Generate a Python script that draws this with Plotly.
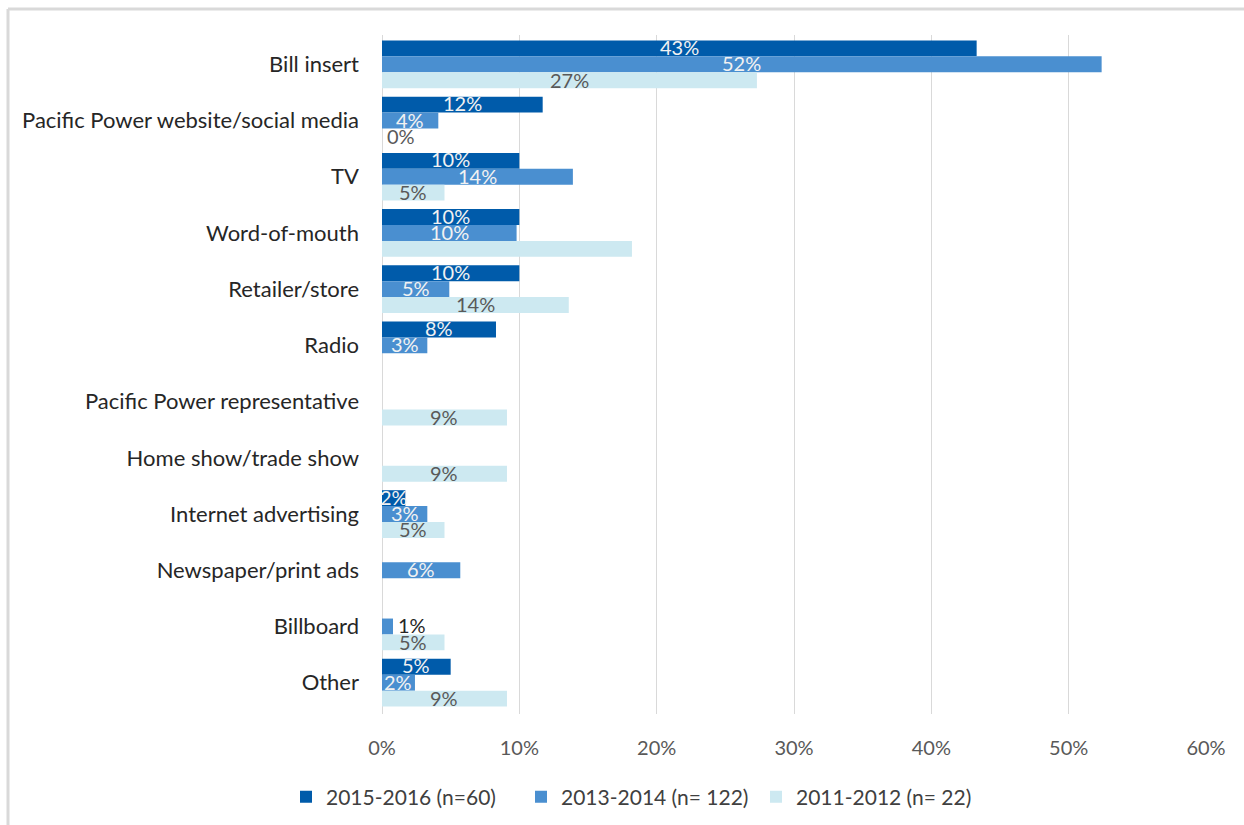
import plotly.graph_objects as go

# Survey: how participants heard about the program (share of respondents, %)
categories = [
    "Bill insert",
    "Pacific Power website/social media",
    "TV",
    "Word-of-mouth",
    "Retailer/store",
    "Radio",
    "Pacific Power representative",
    "Home show/trade show",
    "Internet advertising",
    "Newspaper/print ads",
    "Billboard",
    "Other",
]

series_names = ["2015-2016 (n=60)", "2013-2014 (n= 122)", "2011-2012 (n= 22)"]

vals_2015 = [43.3, 11.7, 10.0, 10.0, 10.0, 8.3, None, None, 1.7, None, None, 5.0]
vals_2013 = [52.4, 4.1, 13.9, 9.8, 4.9, 3.3, None, None, 3.3, 5.7, 0.8, 2.4]
vals_2011 = [27.3, 0.0, 4.55, 18.2, 13.6, None, 9.1, 9.1, 4.55, None, 4.55, 9.1]

# which data labels are shown (the 2011-2012 word-of-mouth bar carries none)
show_2015 = [True] * 12
show_2013 = [True] * 12
show_2011 = [True, True, True, False, True, True, True, True, True, True, True, True]

x_ticks = [0, 10, 20, 30, 40, 50, 60]

colors = ["#005BAA", "#4A8FD0", "#CDE9F1"]
label_colors = ["#F2F2F2", "#F2F2F2", "#595959"]

W, H = 1244, 825
ML, MR, MT, MB = 382, 38, 35, 111
PW, PH = W - ML - MR, H - MT - MB

FONT = "Lato"

fig = go.Figure()
all_vals = [vals_2015, vals_2013, vals_2011]
all_show = [show_2015, show_2013, show_2011]
for name, vals, col in zip(series_names, all_vals, colors):
    fig.add_trace(go.Bar(
        y=categories, x=vals, name=name, orientation="h",
        marker=dict(color=col, line=dict(width=0)),
        hoverinfo="x+y",
    ))

# data labels, centred on each bar (placed just past the bar end when too short)
annotations = []
shifts = [16.3, 0, -16.3]
for k, (vals, show) in enumerate(zip(all_vals, all_show)):
    for cat, v, s in zip(categories, vals, show):
        if v is None or not s:
            continue
        txt = f"{int(v + 0.5)}%"
        if v >= 1.5:
            annotations.append(dict(
                x=v / 2, y=cat, text=txt, showarrow=False, xanchor="center",
                yanchor="middle", yshift=shifts[k] + 1,
                font=dict(family=FONT, size=20, color=label_colors[k]),
            ))
        else:
            annotations.append(dict(
                x=v, y=cat, text=txt, showarrow=False, xanchor="left",
                yanchor="middle", yshift=shifts[k] + 1, xshift=3,
                font=dict(family=FONT, size=20,
                          color="#262626" if k < 2 else label_colors[k]),
            ))


def px_x(p):
    return (p - ML) / PW


def px_y(p):
    return 1 - (p - MT) / PH


# outer frame of the chart area
shapes = [
    dict(type="line", xref="paper", yref="paper", x0=px_x(8), x1=px_x(1260),
         y0=px_y(9), y1=px_y(9), line=dict(color="#D9D9D9", width=3)),
    dict(type="line", xref="paper", yref="paper", x0=px_x(8), x1=px_x(8),
         y0=px_y(9), y1=px_y(840), line=dict(color="#D9D9D9", width=3)),
]

fig.update_layout(
    width=W, height=H,
    margin=dict(l=ML, r=MR, t=MT, b=MB, autoexpand=False),
    paper_bgcolor="white", plot_bgcolor="white",
    barmode="group", bargap=0.152, bargroupgap=0,
    font=dict(family=FONT, size=20, color="#404040"),
    showlegend=True,
    legend=dict(
        orientation="h", x=px_x(286), y=px_y(797), xanchor="left",
        yanchor="middle", font=dict(family=FONT, size=21, color="#404040"),
        traceorder="normal", entrywidth=190, entrywidthmode="pixels",
    ),
    annotations=annotations,
    shapes=shapes,
    xaxis=dict(
        range=[0, 60], tickvals=x_ticks, ticktext=[f"{t}%" for t in x_ticks],
        showgrid=True, gridcolor="#D9D9D9", gridwidth=1,
        zeroline=True, zerolinecolor="#D9D9D9", zerolinewidth=1,
        showline=False, ticks="", ticklabelstandoff=20,
        tickfont=dict(family=FONT, size=20, color="#595959"),
        fixedrange=True,
    ),
    yaxis=dict(
        autorange="reversed", showgrid=False, showline=False, ticks="",
        ticklabelstandoff=22,
        tickfont=dict(family=FONT, size=22, color="#262626"),
        fixedrange=True,
    ),
)

fig.write_html("out.html")
